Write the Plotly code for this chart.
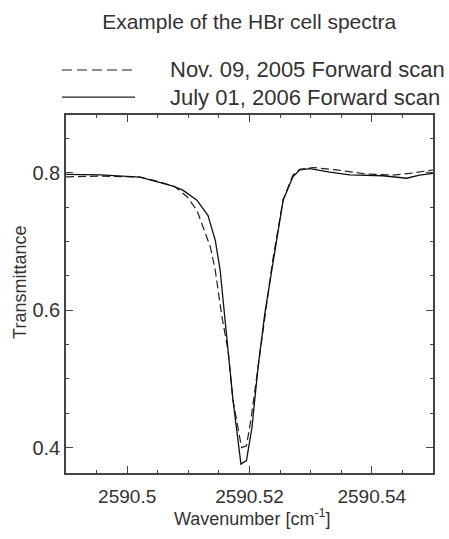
import plotly.graph_objects as go

# Nov. 09, 2005 Forward scan (dashed)
x_nov = [2590.4900, 2590.4956, 2590.5021, 2590.5054, 2590.5078, 2590.5098, 2590.5114,
         2590.5124, 2590.5136, 2590.5144, 2590.5155, 2590.5165, 2590.5173, 2590.5187,
         2590.5195, 2590.5202, 2590.5214, 2590.5225, 2590.5238, 2590.5255, 2590.5271,
         2590.5282, 2590.5304, 2590.5343, 2590.5392, 2590.5434, 2590.5462, 2590.5500]
y_nov = [0.794, 0.795, 0.7937, 0.7864, 0.7796, 0.765, 0.7455,
         0.721, 0.692, 0.658, 0.590, 0.541, 0.469, 0.400,
         0.4025, 0.439, 0.518, 0.595, 0.673, 0.761, 0.7966,
         0.805, 0.8076, 0.804, 0.798, 0.7966, 0.799, 0.804]

# July 01, 2006 Forward scan (solid)
x_jul = [2590.4900, 2590.4956, 2590.5021, 2590.5038, 2590.5075, 2590.5091, 2590.5114,
         2590.5132, 2590.5144, 2590.5152, 2590.5160, 2590.5173, 2590.5186, 2590.5195,
         2590.5204, 2590.5214, 2590.5225, 2590.5239, 2590.5255, 2590.5271, 2590.5282,
         2590.5299, 2590.5331, 2590.5364, 2590.5418, 2590.5457, 2590.5478, 2590.5500]
y_jul = [0.7975, 0.797, 0.7937, 0.7893, 0.7806, 0.7747, 0.760,
         0.738, 0.702, 0.658, 0.589, 0.469, 0.376, 0.381,
         0.429, 0.517, 0.595, 0.6726, 0.760, 0.794, 0.804,
         0.806, 0.801, 0.797, 0.7956, 0.792, 0.7966, 0.799]

series_names = ["Nov. 09, 2005 Forward scan", "July 01, 2006 Forward scan"]
x_ticks = [2590.5, 2590.52, 2590.54]
x_tick_labels = ["2590.5", "2590.52", "2590.54"]
y_ticks = [0.4, 0.6, 0.8]
y_tick_labels = ["0.4", "0.6", "0.8"]

FONT = "Liberation Sans, Arial, Helvetica, sans-serif"
TXT = "#333333"
AX = "#444444"

fig = go.Figure()
fig.add_trace(go.Scatter(x=x_nov, y=y_nov, mode="lines", name=series_names[0],
                         line=dict(color="#222222", width=1.2, dash="8px,4px"),
                         showlegend=False))
fig.add_trace(go.Scatter(x=x_jul, y=y_jul, mode="lines", name=series_names[1],
                         line=dict(color="#111111", width=1.3),
                         showlegend=False))

# manual legend (line samples + labels)
leg_rows = [(1.1257, "10px,5px"), (1.050, "solid")]
for (yy, dash), name in zip(leg_rows, series_names):
    fig.add_shape(type="line", xref="paper", yref="paper",
                  x0=-0.011, x1=0.188, y0=yy, y1=yy,
                  line=dict(color="#222222", width=1.2, dash=dash))
    fig.add_annotation(xref="paper", yref="paper", x=0.278, y=yy,
                       xanchor="left", yanchor="middle", showarrow=False,
                       text=name, font=dict(family=FONT, size=22, color=TXT))

# axis titles
fig.add_annotation(xref="paper", yref="paper", x=0.507, y=-0.123,
                   xanchor="center", yanchor="middle", showarrow=False,
                   text="Wavenumber [cm<sup>-1</sup>]",
                   font=dict(family=FONT, size=18, color=TXT))
fig.add_annotation(xref="paper", yref="paper", x=-0.1253, y=0.531,
                   xanchor="center", yanchor="middle", showarrow=False,
                   textangle=-90, text="Transmittance",
                   font=dict(family=FONT, size=18, color=TXT))

axis_common = dict(
    showline=True, linecolor=AX, linewidth=1.5, mirror="ticks",
    ticks="inside", ticklen=7, tickwidth=1, tickcolor=AX,
    showgrid=False, zeroline=False,
)

fig.update_layout(
    width=449, height=539,
    margin=dict(l=66, r=16, t=115, b=66),
    paper_bgcolor="white", plot_bgcolor="white",
    title=dict(text="Example of the HBr cell spectra", x=0.555, xanchor="center",
               y=1 - 22 / 539, yanchor="middle", yref="container",
               font=dict(family=FONT, size=21, color=TXT)),
    xaxis=dict(range=[2590.49, 2590.55], tickvals=x_ticks, ticktext=x_tick_labels,
               minor=dict(dtick=0.005, tick0=2590.5, ticks="inside", ticklen=3, tickcolor=AX),
               ticklabelstandoff=5,
               tickfont=dict(family=FONT, size=19, color=TXT),
               **axis_common),
    yaxis=dict(range=[0.363, 0.884], tickvals=y_ticks, ticktext=y_tick_labels,
               minor=dict(dtick=0.05, tick0=0.4, ticks="inside", ticklen=3, tickcolor=AX),
               tickfont=dict(family=FONT, size=20, color=TXT),
               **axis_common),
)

fig.write_html("out.html")
